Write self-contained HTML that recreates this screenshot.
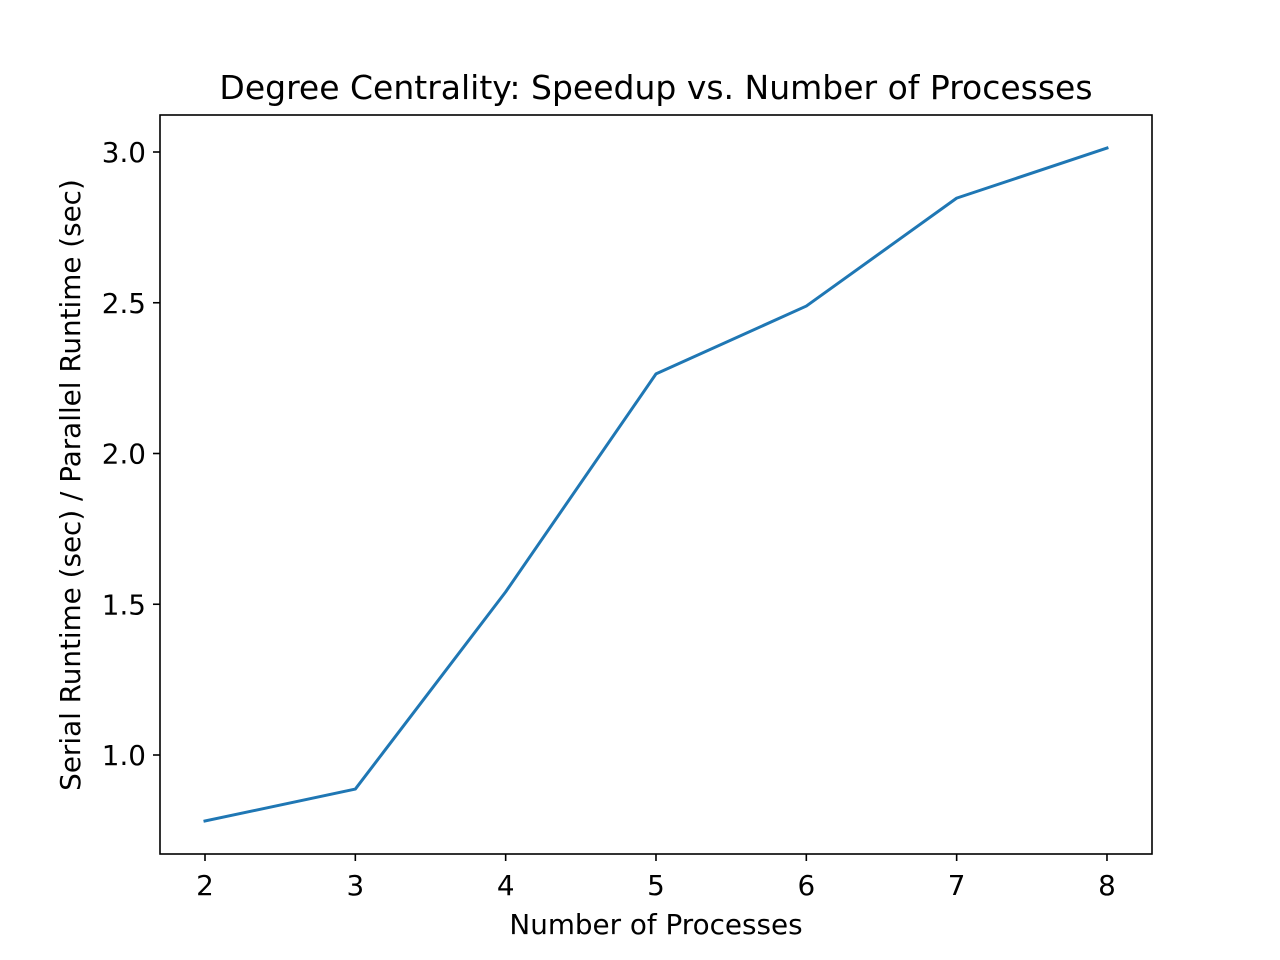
<!DOCTYPE html>
<html><head><meta charset="utf-8">
<style>
body{margin:0;background:#fff;}
svg{display:block;font-family:"DejaVu Sans","Liberation Sans",sans-serif;}
</style></head>
<body>
<svg id="chart" width="1280" height="960" viewBox="0 0 1280 960" xmlns="http://www.w3.org/2000/svg">
<rect width="1280" height="960" fill="#fff"/>
<text x="656" y="99" font-size="33" text-anchor="middle" fill="#000">Degree Centrality: Speedup vs. Number of Processes</text>
<text x="656" y="934" font-size="27.8" text-anchor="middle" fill="#000">Number of Processes</text>
<text transform="translate(80,485) rotate(-90)" font-size="27.8" text-anchor="middle" fill="#000">Serial Runtime (sec) / Parallel Runtime (sec)</text>
<g id="ticks"></g>
<polyline id="line" fill="none" stroke="#1f77b4" stroke-width="3" stroke-linejoin="round" stroke-linecap="square"/>
<rect x="160" y="115" width="992" height="739" fill="none" stroke="#000" stroke-width="1.6"/>
</svg>
<script>
const processes = [2, 3, 4, 5, 6, 7, 8];
const speedup = [0.781, 0.887, 1.541, 2.264, 2.489, 2.847, 3.013];
const xTicks = [2, 3, 4, 5, 6, 7, 8];
const yTicks = [1.0, 1.5, 2.0, 2.5, 3.0];
const yTickLabels = ["1.0", "1.5", "2.0", "2.5", "3.0"];

function xs(v){ return 205 + (v - 2) * 150.33; }
function ys(v){ return 755 - (v - 1.0) * 301.5; }

const NS = "http://www.w3.org/2000/svg";
const g = document.getElementById('ticks');
xTicks.forEach(t => {
  const l = document.createElementNS(NS, 'line');
  
  
  l.setAttribute('x1', xs(t)); l.setAttribute('x2', xs(t));
  l.setAttribute('y1', 854); l.setAttribute('y2', 861);
  l.setAttribute('stroke', '#000'); l.setAttribute('stroke-width', '1.6');
  g.appendChild(l);
  const tx = document.createElementNS(NS, 'text');
  
  
  tx.setAttribute('x', xs(t)); tx.setAttribute('y', 895);
  tx.setAttribute('font-size', '27.8'); tx.setAttribute('text-anchor', 'middle');
  tx.textContent = t;
  g.appendChild(tx);
});
yTicks.forEach((t, i) => {
  const l = document.createElementNS(NS, 'line');
  
  
  l.setAttribute('x1', 153); l.setAttribute('x2', 160);
  l.setAttribute('y1', ys(t)); l.setAttribute('y2', ys(t));
  l.setAttribute('stroke', '#000'); l.setAttribute('stroke-width', '1.6');
  g.appendChild(l);
  const tx = document.createElementNS(NS, 'text');
  
  
  tx.setAttribute('x', 146); tx.setAttribute('y', ys(t) + 10);
  tx.setAttribute('font-size', '27.8'); tx.setAttribute('text-anchor', 'end');
  tx.textContent = yTickLabels[i];
  g.appendChild(tx);
});
document.getElementById('line').setAttribute('points',
  processes.map((p, i) => xs(p) + ',' + ys(speedup[i])).join(' '));
</script>
</body></html>
